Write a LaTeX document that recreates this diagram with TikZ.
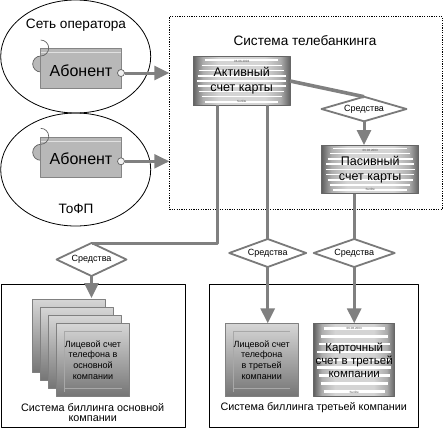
\documentclass[tikz,border=0pt]{standalone}
\usepackage{fontspec}
\setmainfont{Liberation Sans}
\usetikzlibrary{shapes.geometric,arrows.meta,calc}
\pgfdeclarehorizontalshading{cardshade}{100bp}{color(0bp)=(black!62); color(25bp)=(black!62); color(30bp)=(black!32); color(38bp)=(black!17); color(62bp)=(black!17); color(70bp)=(black!32); color(75bp)=(black!62); color(100bp)=(black!62)}
\tikzset{
	zone/.style={ellipse,draw=black,line width=.8pt,minimum width=150pt,minimum height=113pt,inner sep=0pt,outer sep=0pt},
	subscriber/.style={rectangle,draw=black!48,line width=.7pt,fill=black!28,minimum width=81pt,minimum height=40pt,inner sep=0pt,outer sep=0pt,
		path picture={\draw[black!12,line width=.7pt] ($(path picture bounding box.north west)+(0,4)$)--($(path picture bounding box.north east)+(0,4)$);}},
	port/.style={circle,draw=black!62,line width=.7pt,fill=black!28,minimum size=16pt,inner sep=0pt,outer sep=0pt},
	socket/.style={circle,draw=black!62,line width=.7pt,fill=black!6,minimum size=7pt,inner sep=0pt,outer sep=0pt},
	funds/.style={diamond,draw=black!52,line width=1.8pt,fill=white,aspect=3,inner sep=0pt,outer sep=0pt,minimum height=26pt,font=\fontsize{9}{9}\selectfont},
	flow/.style={black!50,line width=3pt},
	flowto/.style={flow,-{Triangle[length=15pt,width=14pt]}},
	account/.style={rectangle,draw=black!50,line width=.7pt,top color=black!16,bottom color=black!54,outer sep=0pt,inner sep=0pt,minimum width=73pt,minimum height=73pt,align=center,font=\fontsize{9}{10.6}\selectfont,
		path picture={\draw[black!34,line width=.5pt] ($(path picture bounding box.south west)+(8,-4)$)--($(path picture bounding box.north west)+(8,8)$)--($(path picture bounding box.north east)+(-8,8)$);
			\draw[black!34,line width=.5pt] ($(path picture bounding box.south west)+(8,-8)$)--($(path picture bounding box.south east)+(-8,-8)$);}},
	cardbox/.style={rectangle,draw=black!60,line width=.8pt,shading=cardshade,outer sep=0pt,inner sep=0pt,align=center,
		path picture={\foreach \t in {-.86,-.645,-.43,-.215,0,.215,.43,.645,.86}{
				\pgfmathsetmacro{\s}{.04+.11*\t*\t}
				\draw[white,line width=#1] ($($(path picture bounding box.west)!\t!(path picture bounding box.north west)$)!\s!($(path picture bounding box.east)!\t!(path picture bounding box.north east)$)$)--($($(path picture bounding box.east)!\t!(path picture bounding box.north east)$)!\s!($(path picture bounding box.west)!\t!(path picture bounding box.north west)$)$);}}},
	tiny/.style={font=\fontsize{3}{3}\selectfont,black!70},
	title/.style={font=\fontsize{13.6}{13.6}\selectfont},
	caption/.style={font=\fontsize{10.8}{10.2}\selectfont,align=center}
}
\begin{document}
\begin{tikzpicture}[x=1pt,y=-1pt,line join=round]
	\useasboundingbox (0,0) rectangle (443,429);
	% зоны и абоненты
	\node[zone] (operator) at (75.7,56.5) {};
	\node[zone] (tofp) at (75.7,169.5) {};
	\node[title] (operatorText) at (76,25) {Сеть оператора};
	\node[title] (tofpText) at (76,209) {ТоФП};
	\foreach \n/\y in {A/68.7,B/157}{
		\node[port] (port\n) at (40.7,\y-4.7) {};
		\node[subscriber] (sub\n) at (81,\y) {};
		\draw[black!62,line width=.7pt] (port\n.north) arc(90:-90:8);
		\node[font=\fontsize{16}{16}\selectfont] (subText\n) at (81,\y+1.6) {Абонент};
		\node[socket] (socket\n) at (121,\y+4.3) {};
	}
	% системы
	\node[draw=black,line width=.7pt,dash pattern=on 1.2pt off 1.2pt,minimum width=273pt,minimum height=192.5pt,outer sep=0pt] (telebank) at (305.8,112.9) {};
	\node[title] (telebankText) at (305,40.7) {Система телебанкинга};
	\node[draw=black,line width=.8pt,minimum width=184pt,minimum height=143.7pt,outer sep=0pt] (mainBilling) at (93,355.9) {};
	\node[draw=black,line width=.8pt,minimum width=208.7pt,minimum height=143.7pt,outer sep=0pt] (thirdBilling) at (313.7,355.9) {};
	\node[caption] (mainText) at (92.7,412.7) {Система биллинга основной\\компании};
	\node[caption] (thirdText) at (313.7,407.7) {Система биллинга третьей компании};
	% карты
	\node[cardbox=1.5pt,minimum width=97pt,minimum height=48.6pt,font=\fontsize{12.5}{15}\selectfont] (active) at (241.7,81) {Активный\\счет карты};
	\node[cardbox=1.5pt,minimum width=97pt,minimum height=48.6pt,font=\fontsize{12.5}{15}\selectfont] (passive) at (370.2,169.3) {Пасивный\\счет карты};
	\node[cardbox=2.6pt,minimum width=81pt,minimum height=73pt,font=\fontsize{11.5}{13}\selectfont] (cardThird) at (354.2,359.8) {Карточный\\счет в третьей\\компании};
	\foreach \x/\n/\d/\u in {active/A/06.06.2003/Sunlite,passive/B/06.06.2003/Sunlite,cardThird/C/06.06.2003/Sunlite}{
		\node[tiny] (date\n) at ($(\x.north)+(0,5)$) {\d};
		\node[tiny] (sign\n) at ($(\x.south)+(0,-4)$) {\u};
	}
	% счета
	\foreach \i/\cx/\cy in {1/69/335.5,2/77/343.5,3/85/351.5}{
		\node[account] (stack\i) at (\cx,\cy) {};
	}
	\node[account] (stack4) at (93,359.8) {Лицевой счет\\телефона в\\основной\\компании};
	\node[account] (phoneThird) at (261.7,359.8) {Лицевой счет\\телефона\\в третьей\\компании};
	% ромбы
	\node[funds,minimum width=70pt,minimum height=33pt] (fundsMain) at (91.5,259.5) {Средства};
	\node[funds,minimum width=77pt,minimum height=28pt] (fundsPhone) at (267.7,253) {Средства};
	\node[funds,minimum width=81pt,minimum height=28pt] (fundsCard) at (354.2,253) {Средства};
	\node[funds,minimum width=85pt,minimum height=24.6pt] (fundsPass) at (364,109) {Средства};
	% связи
	\coordinate (outMain) at (217.3,105.3);
	\coordinate (outPhone) at (267.7,105.3);
	\coordinate (outPass) at (290,81);
	\draw[flowto] (socketA)--(telebank.west |- socketA);
	\draw[flowto,line width=2.4pt] (socketB)--(telebank.west |- socketB);
	\draw[flow,line width=3.6pt] (outPass)--(fundsPass.north);
	\draw[flowto] (fundsPass.south)--(passive.north -| fundsPass.south);
	\draw[flow] (outPhone)--(fundsPhone.north);
	\draw[flow] (passive.south -| fundsCard.north)--(fundsCard.north);
	\draw[flow] (outMain)|-(fundsMain.north);
	\draw[flowto] (fundsPhone.south)--(phoneThird.north -| fundsPhone.south);
	\draw[flowto] (fundsCard.south)--(cardThird.north);
	\coordinate (inMain) at (91.5,298);
	\draw[flowto] (fundsMain.south)--(inMain);
\end{tikzpicture}
\end{document}
